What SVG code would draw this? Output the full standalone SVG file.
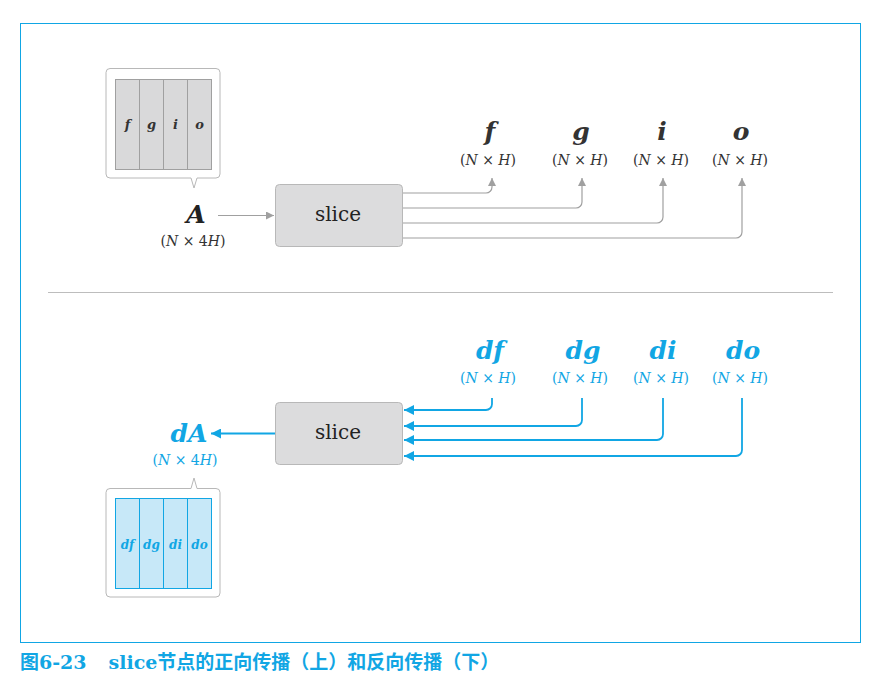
<svg xmlns="http://www.w3.org/2000/svg" width="883" height="684" viewBox="0 0 883 684">
<style>
.math{font-family:"DejaVu Serif",serif;font-style:italic;font-weight:bold;text-anchor:middle}
.dim{font-family:"DejaVu Serif",serif;font-size:14px;text-anchor:middle}
.dim tspan.i{font-style:italic}
.gray{fill:#333}
.blue{fill:#11a6e4}
.lbl{font-family:"DejaVu Serif",serif;font-size:20px;text-anchor:middle;fill:#222}
.box{fill:#dcdcdd;stroke:#b8b8b8;stroke-width:1}
.gl{fill:none;stroke:#a0a0a0;stroke-width:1.2}
.bl{fill:none;stroke:#11a6e4;stroke-width:1.8}
</style>
<defs>
<marker id="ag" viewBox="0 0 10 10" refX="10" refY="5" markerWidth="8" markerHeight="8" markerUnits="userSpaceOnUse" orient="auto"><path d="M0,0L10,5L0,10z" fill="#a0a0a0"/></marker>
<marker id="ab" viewBox="0 0 10 10" refX="10" refY="5" markerWidth="10" markerHeight="10" markerUnits="userSpaceOnUse" orient="auto"><path d="M0,0L10,5L0,10z" fill="#11a6e4"/></marker>
</defs>
<rect width="883" height="684" fill="#fff"/>
<rect x="20.5" y="23.5" width="840" height="619" fill="none" stroke="#11a6e4" stroke-width="1"/>
<line x1="48" y1="292.5" x2="833" y2="292.5" stroke="#bdbdbd" stroke-width="1.2"/>

<g id="callout-top">
<path d="M110,68.5H216a4,4 0 0 1 4,4V174a4,4 0 0 1-4,4H197L194,188L191,178H110a4,4 0 0 1-4-4V72.5a4,4 0 0 1 4-4z" fill="#fff" stroke="#b8b8b8"/>
<rect x="115.5" y="79.5" width="96" height="90" fill="#d9d9da" stroke="#a0a0a0"/>
<line x1="139.5" y1="79.5" x2="139.5" y2="169.5" stroke="#a0a0a0"/>
<line x1="163.5" y1="79.5" x2="163.5" y2="169.5" stroke="#a0a0a0"/>
<line x1="187.5" y1="79.5" x2="187.5" y2="169.5" stroke="#a0a0a0"/>
<text class="math gray" x="127.5" y="129" font-size="13">f</text>
<text class="math gray" x="151.5" y="129" font-size="13">g</text>
<text class="math gray" x="175.5" y="129" font-size="13">i</text>
<text class="math gray" x="199.5" y="129" font-size="13">o</text>
</g>

<g id="A">
<text class="math" x="196" y="223" font-size="25" fill="#222">A</text>
<text class="dim gray" x="193" y="246">(<tspan class="i">N</tspan> × 4<tspan class="i">H</tspan>)</text>
</g>

<g id="slice-top">
<rect class="box" x="275.5" y="184.5" width="127" height="62" rx="4"/>
<text class="lbl" x="338" y="221" font-family="DejaVu Serif, serif">slice</text>
</g>

<g id="outputs-top">
<text class="math gray" x="490" y="140" font-size="25">f</text>
<text class="math gray" x="581" y="140" font-size="25">g</text>
<text class="math gray" x="662" y="140" font-size="25">i</text>
<text class="math gray" x="741" y="140" font-size="25">o</text>
<text class="dim gray" x="488" y="165">(<tspan class="i">N</tspan> × <tspan class="i">H</tspan>)</text>
<text class="dim gray" x="580" y="165">(<tspan class="i">N</tspan> × <tspan class="i">H</tspan>)</text>
<text class="dim gray" x="661" y="165">(<tspan class="i">N</tspan> × <tspan class="i">H</tspan>)</text>
<text class="dim gray" x="740" y="165">(<tspan class="i">N</tspan> × <tspan class="i">H</tspan>)</text>
</g>

<g id="slice-bottom">
<rect class="box" x="275.5" y="402.5" width="127" height="62" rx="4"/>
<text class="lbl" x="338" y="439" font-family="DejaVu Serif, serif">slice</text>
</g>

<g id="outputs-bottom">
<text class="math blue" x="490" y="359" font-size="25">df</text>
<text class="math blue" x="583" y="359" font-size="25">dg</text>
<text class="math blue" x="663" y="359" font-size="25">di</text>
<text class="math blue" x="743" y="359" font-size="25">do</text>
<text class="dim blue" x="488" y="383">(<tspan class="i">N</tspan> × <tspan class="i">H</tspan>)</text>
<text class="dim blue" x="580" y="383">(<tspan class="i">N</tspan> × <tspan class="i">H</tspan>)</text>
<text class="dim blue" x="661" y="383">(<tspan class="i">N</tspan> × <tspan class="i">H</tspan>)</text>
<text class="dim blue" x="740" y="383">(<tspan class="i">N</tspan> × <tspan class="i">H</tspan>)</text>
</g>

<g id="dA">
<text class="math blue" x="189" y="442" font-size="25">dA</text>
<text class="dim blue" x="185" y="465">(<tspan class="i">N</tspan> × 4<tspan class="i">H</tspan>)</text>
</g>

<g id="callout-bottom">
<path d="M110,488.5H191L194,478L197,488.5H216a4,4 0 0 1 4,4V593a4,4 0 0 1-4,4H110a4,4 0 0 1-4-4V492.5a4,4 0 0 1 4-4z" fill="#fff" stroke="#b8b8b8"/>
<rect x="115.5" y="498.5" width="96" height="90" fill="#c7e8f8" stroke="#11a6e4"/>
<line x1="139.5" y1="498.5" x2="139.5" y2="588.5" stroke="#11a6e4"/>
<line x1="163.5" y1="498.5" x2="163.5" y2="588.5" stroke="#11a6e4"/>
<line x1="187.5" y1="498.5" x2="187.5" y2="588.5" stroke="#11a6e4"/>
<text class="math blue" x="127.5" y="549" font-size="12">df</text>
<text class="math blue" x="151.5" y="549" font-size="12">dg</text>
<text class="math blue" x="175.5" y="549" font-size="12">di</text>
<text class="math blue" x="199.5" y="549" font-size="12">do</text>
</g>

<g id="connectors">
<line class="gl" x1="218" y1="215.5" x2="274" y2="215.5" marker-end="url(#ag)"/>
<path class="gl" d="M403,193H486a6,6 0 0 0 6-6V178" marker-end="url(#ag)"/>
<path class="gl" d="M403,208H576a6,6 0 0 0 6-6V178" marker-end="url(#ag)"/>
<path class="gl" d="M403,223H657a6,6 0 0 0 6-6V178" marker-end="url(#ag)"/>
<path class="gl" d="M403,238H736a6,6 0 0 0 6-6V178" marker-end="url(#ag)"/>
<line class="bl" x1="275" y1="433.5" x2="211" y2="433.5" marker-end="url(#ab)"/>
<path class="bl" d="M492,398V404a6,6 0 0 1-6,6H404" marker-end="url(#ab)"/>
<path class="bl" d="M582,398V420a6,6 0 0 1-6,6H404" marker-end="url(#ab)"/>
<path class="bl" d="M663,398V434a6,6 0 0 1-6,6H404" marker-end="url(#ab)"/>
<path class="bl" d="M742,398V450a6,6 0 0 1-6,6H404" marker-end="url(#ab)"/>
</g>

<text x="20" y="669" font-size="19" font-weight="bold" fill="#11a6e4" font-family="'DejaVu Serif','Noto Sans CJK SC',serif">图6-23<tspan dx="22">slice</tspan>节点的正向传播（上）和反向传播（下）</text>
</svg>
